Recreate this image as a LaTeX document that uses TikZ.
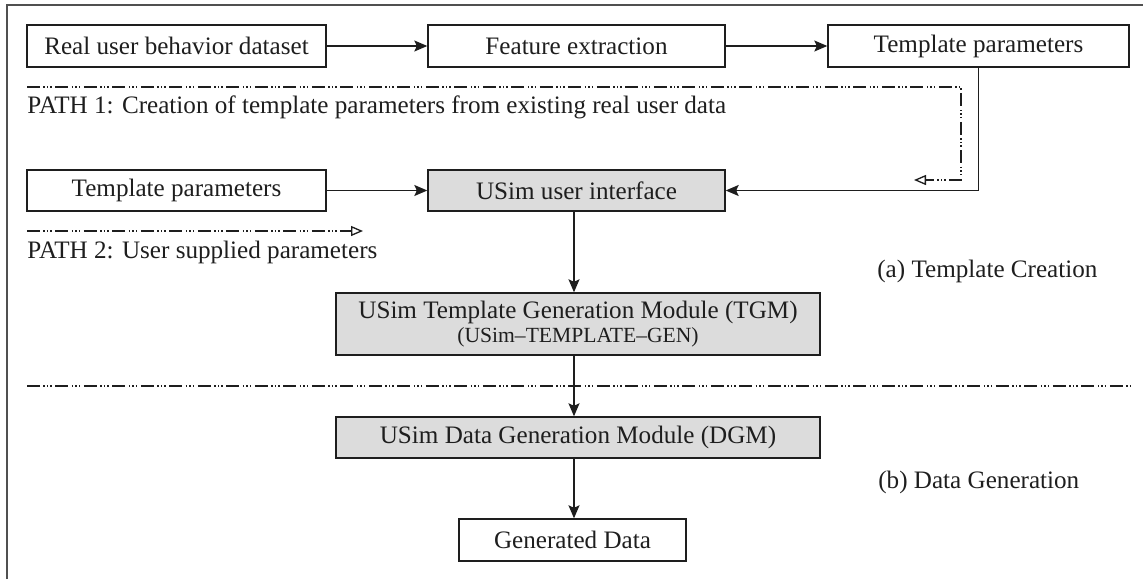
\documentclass[tikz,border=0pt]{standalone}
\usepackage{fontspec}
\setmainfont{Liberation Serif}
\usetikzlibrary{arrows.meta}
\definecolor{boxfill}{RGB}{220,220,220}
\definecolor{ink}{RGB}{30,30,30}
\definecolor{framecol}{RGB}{80,80,80}
\tikzset{
  every node/.style={font=\fontsize{14.3}{17}\selectfont, text=ink},
  box/.style={draw=ink, line width=0.8pt, rectangle, inner sep=0pt},
  graybox/.style={box, fill=boxfill},
  arr/.style={draw=ink, line width=0.8pt, -{Stealth[length=0.26cm, width=0.22cm, inset=0.05cm]}},
  dashdotdot/.style={draw=ink, line width=0.75pt, dash pattern=on 0.26cm off 0.07cm on 0.03cm off 0.04cm on 0.03cm off 0.04cm on 0.03cm off 0.07cm},
  openarr/.style={-{Triangle[open, length=0.24cm, width=0.2cm]}},
  frameline/.style={draw=framecol, line width=1.4pt},
  lbl/.style={inner sep=0pt}
}
\begin{document}
\begin{tikzpicture}[x=0.02cm, y=-0.02cm]
\useasboundingbox (0,0) rectangle (1143,579);
% frame (only top and left edges visible)
\coordinate (fbl) at (7,579);
\coordinate (ftl) at (7,5);
\coordinate (ftr) at (1143,5);
\draw[frameline] (fbl) -- (ftl) -- (ftr);

% row 1
\node[box, minimum width=5.98cm, minimum height=0.84cm] (real) at (176.5,46) {Real user behavior dataset};
\node[box, minimum width=5.94cm, minimum height=0.84cm] (feat) at (576.5,46) {Feature extraction};
\node[box, minimum width=6.02cm, minimum height=0.84cm] (tpa) at (978.5,46) {Template parameters};
% row 2
\node[box, minimum width=5.98cm, minimum height=0.82cm] (tpb) at (176.5,190.5) {Template parameters};
\node[graybox, minimum width=5.94cm, minimum height=0.82cm] (ui) at (576.5,190.5) {USim user interface};
% modules
\node[graybox, minimum width=9.68cm, minimum height=1.24cm, align=center] (tgm) at (578,324)
  {USim Template Generation Module (TGM)\\[-3pt]{\fontsize{12.3}{14}\selectfont (USim–TEMPLATE–GEN)}};
\node[graybox, minimum width=9.68cm, minimum height=0.82cm] (dgm) at (578,437.5) {USim Data Generation Module (DGM)};
\node[box, minimum width=4.54cm, minimum height=0.84cm] (gen) at (572.5,540) {Generated Data};

% labels
\node[lbl, anchor=base west] (p1) at (27,113) {PATH 1: Creation of template parameters from existing real user data};
\node[lbl, anchor=base west] (p2) at (27,258) {PATH 2: User supplied parameters};
\node[lbl, anchor=base west] (la) at (877,277) {(a) Template Creation};
\node[lbl, anchor=base west] (lb) at (878,488) {(b) Data Generation};

% solid connectors
\draw[arr] (real.east) -- (feat.west);
\draw[arr] (feat.east) -- (tpa.west);
\draw[arr] (tpb.east) -- (ui.west);
\draw[arr] (tpa.south) |- (ui.east);
\coordinate (ax) at (574,0);
\draw[arr] (ax |- ui.south) -- (ax |- tgm.north);
\draw[arr] (ax |- tgm.south) -- (ax |- dgm.north);
\draw[arr] (ax |- dgm.south) -- (ax |- gen.north);

% path lines
\coordinate (pa1) at (27,87);
\coordinate (pa2) at (961,87);
\coordinate (pa3) at (961,180);
\coordinate (pa4) at (914,180);
\draw[dashdotdot, openarr] (pa1) -- (pa2) -- (pa3) -- (pa4);
\coordinate (pb1) at (27,231);
\coordinate (pb2) at (363,231);
\draw[dashdotdot, openarr] (pb1) -- (pb2);
% separator
\coordinate (s1) at (27,386);
\coordinate (s2) at (1132,386);
\draw[dashdotdot] (s1) -- (s2);
\end{tikzpicture}
\end{document}
